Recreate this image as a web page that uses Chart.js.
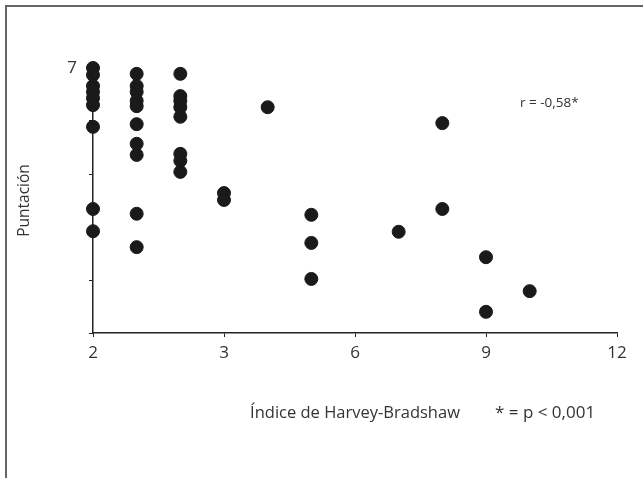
<!DOCTYPE html>
<html>
<head>
<meta charset="utf-8">
<script src="https://cdn.jsdelivr.net/npm/chart.js@4/dist/chart.umd.min.js"></script>
<style>
  html, body { margin: 0; padding: 0; background: #fff; }
  #wrap { width: 643px; height: 478px; }
</style>
</head>
<body>
<div id="wrap"><canvas id="scoreChart"></canvas></div>
<script>
// Índice de Harvey-Bradshaw (x) vs Puntación (y)
const hbIndex = [0, 0, 0, 0, 0, 0, 0, 0, 0,
  1, 1, 1, 1, 1, 1, 1, 1, 1, 1,
  2, 2, 2, 2, 2, 2, 2, 2,
  3, 3, 4, 5, 5, 5, 7, 8, 8, 9, 9, 10];
const puntacion = [7.00, 6.87, 6.66, 6.55, 6.43, 6.30, 5.89, 4.34, 3.92,
  6.89, 6.66, 6.55, 6.38, 6.28, 5.94, 5.57, 5.36, 4.25, 3.62,
  6.89, 6.47, 6.38, 6.26, 6.08, 5.38, 5.25, 5.04,
  4.64, 4.51, 6.26, 4.23, 3.70, 3.02, 3.91, 5.96, 4.34, 3.43, 2.40, 2.79];
const xTickLabels = ['2', '3', '6', '9', '12'];
const yTickLabels = ['', '', '', '', '', '7'];

const points = hbIndex.map((x, i) => ({ x: x, y: puntacion[i] }));

const notes = {
  id: 'notes',
  beforeDraw(chart) {
    const c = chart.ctx;
    c.save();
    c.fillStyle = '#fff';
    c.fillRect(0, 0, chart.width, chart.height);
    c.strokeStyle = '#666';
    c.lineWidth = 2;
    c.beginPath();
    c.moveTo(6, 478);
    c.lineTo(6, 6);
    c.lineTo(643, 6);
    c.stroke();
    c.restore();
  },
  afterDraw(chart) {
    const c = chart.ctx;
    c.save();
    c.fillStyle = '#333';
    c.textBaseline = 'middle';
    c.font = '13.5px "Open Sans"';
    c.fillText('r = -0,58*', 520, 103);
    c.font = '17px "Open Sans"';
    c.fillText('* = p < 0,001', 495, 413);
    c.restore();
  }
};

const ctx = document.getElementById('scoreChart').getContext('2d');

const scoreChart = new Chart(ctx, {
  type: 'scatter',
  data: {
    datasets: [{
      data: points,
      backgroundColor: '#1a1a1a',
      borderColor: '#1a1a1a',
      pointRadius: 6.5,
      pointHoverRadius: 6.5,
      clip: false
    }]
  },
  options: {
    responsive: true,
    maintainAspectRatio: false,
    animation: false,
    layout: { padding: { left: 0, top: 68, right: 26, bottom: 0 } },
    plugins: {
      legend: { display: false },
      tooltip: { enabled: false }
    },
    scales: {
      x: {
        type: 'linear',
        min: 0,
        max: 12,
        afterFit(scale) { scale.height = 145; },
        ticks: {
          stepSize: 3,
          color: '#333',
          padding: 6,
          font: { family: 'Open Sans', size: 17 },
          callback: (v, i) => xTickLabels[i]
        },
        grid: { drawOnChartArea: false, drawTicks: true, tickLength: 4, color: '#222' },
        border: { display: true, color: '#222', width: 1.5 },
        title: {
          display: true,
          text: 'Índice de Harvey-Bradshaw',
          color: '#333',
          font: { family: 'Open Sans', size: 16.5 },
          padding: { top: 0, bottom: 55 }
        }
      },
      y: {
        type: 'linear',
        min: 2,
        max: 7,
        afterFit(scale) { scale.width = 93; },
        ticks: {
          stepSize: 1,
          color: '#333',
          padding: 12,
          font: { family: 'Open Sans', size: 17 },
          callback: (v, i) => yTickLabels[i]
        },
        grid: { drawOnChartArea: false, drawTicks: true, tickLength: 4, color: '#222' },
        border: { display: true, color: '#222', width: 1.5 },
        title: {
          display: true,
          text: 'Puntación',
          color: '#333',
          font: { family: 'Open Sans', size: 15.5 },
          padding: { top: 15, bottom: 0 }
        }
      }
    }
  },
  plugins: [notes]
});
</script>
</body>
</html>
